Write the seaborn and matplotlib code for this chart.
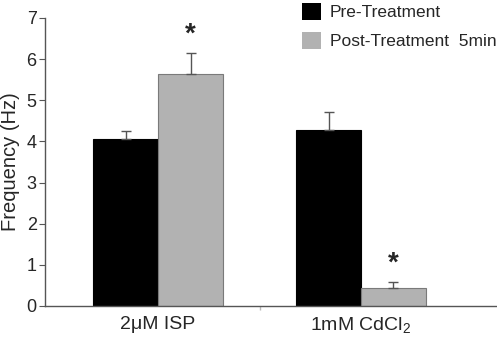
import matplotlib
import numpy as np
import pandas as pd

matplotlib.use("Agg")
import matplotlib.pyplot as plt
import seaborn as sns

CONDITIONS = ["2\u03bcM ISP", "1mM CdCl$_\\mathregular{2}$"]
PHASES = ["Pre-Treatment", "Post-Treatment  5min"]
PRE_MEAN = [4.05, 4.27]
POST_MEAN = [5.63, 0.43]
PRE_SEM = [0.20, 0.45]
POST_SEM = [0.53, 0.16]
SIGNIFICANT = [False, False, True, True]  # pre ISP, pre Cd, post ISP, post Cd

COLORS = {"Pre-Treatment": "#000000", "Post-Treatment  5min": "#b2b2b2"}
FONT = ["Liberation Sans", "DejaVu Sans"]


def main() -> None:
    sns.set_theme(style="ticks")
    plt.rcParams["font.family"] = FONT
    plt.rcParams["mathtext.fontset"] = "custom"
    plt.rcParams["mathtext.rm"] = "Liberation Sans"

    df = pd.DataFrame(
        {
            "condition": CONDITIONS * 2,
            "phase": [PHASES[0]] * 2 + [PHASES[1]] * 2,
            "freq": PRE_MEAN + POST_MEAN,
            "sem": PRE_SEM + POST_SEM,
        }
    )

    fig = plt.figure(figsize=(4.97, 3.37), dpi=100)
    ax = fig.add_axes([45 / 497, 1 - 306 / 337, 1 - 45 / 497, (306 - 18) / 337])

    sns.barplot(
        data=df,
        x="condition",
        y="freq",
        hue="phase",
        palette=COLORS,
        width=0.64,
        errorbar=None,
        ax=ax,
        legend=True,
    )

    bars = [p for p in ax.patches if p.get_height() > 0][:4]
    for patch, (_, row), sig in zip(bars, df.iterrows(), SIGNIFICANT):
        face = patch.get_facecolor()
        patch.set_edgecolor("#000000" if face[0] < 0.1 else "#7a7a7a")
        patch.set_linewidth(0.8)
        cx = patch.get_x() + patch.get_width() / 2
        ax.errorbar(
            cx,
            row["freq"],
            yerr=[[0], [row["sem"]]],
            fmt="none",
            ecolor="#555555",
            elinewidth=1,
            capsize=3.5,
            capthick=1,
            zorder=1,
        )
        if sig:
            ax.text(
                cx,
                row["freq"] + row["sem"] + 0.12,
                "*",
                ha="center",
                va="bottom",
                fontsize=20,
                fontweight="bold",
            )

    ax.set_xlim(-0.557, 1.67)
    ax.set_ylim(0, 7)
    ax.set_yticks(range(0, 8))
    ax.set_xlabel("")
    ax.set_ylabel("Frequency (Hz)", fontsize=14.5, labelpad=5)
    ax.tick_params(axis="y", labelsize=13, length=4, width=0.8, color="#555555", pad=2)
    ax.tick_params(axis="x", labelsize=14, length=0, pad=7)
    ax.set_xticks([0.5], minor=True)
    ax.tick_params(axis="x", which="minor", length=3, color="#bbbbbb")
    sns.despine(ax=ax)
    for side in ("left", "bottom"):
        ax.spines[side].set_color("#555555")
        ax.spines[side].set_linewidth(1)

    handles, labels = ax.get_legend_handles_labels()
    for h in handles:
        h.set_edgecolor("none")
    ax.legend(
        handles,
        labels,
        loc="upper left",
        bbox_to_anchor=(302 / 497, 1 - 3 / 337),
        bbox_transform=fig.transFigure,
        frameon=False,
        fontsize=12.5,
        handlelength=1.1,
        handleheight=1.15,
        handletextpad=0.5,
        labelspacing=0.65,
        borderaxespad=0,
        borderpad=0,
    )

    fig.savefig("out.png", dpi=100)
    plt.close(fig)


if __name__ == "__main__":
    main()
